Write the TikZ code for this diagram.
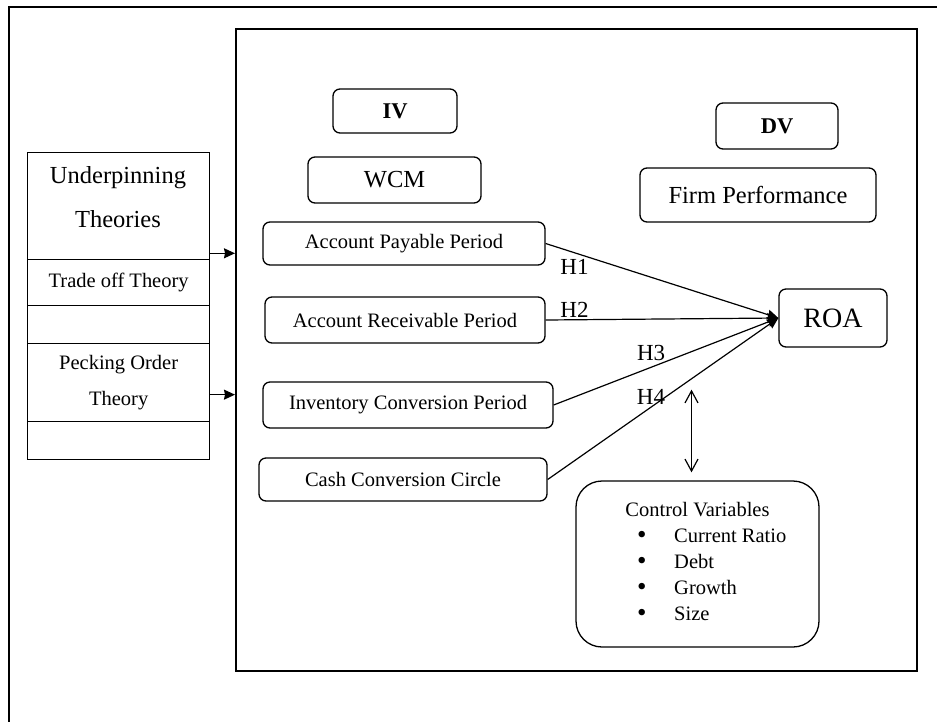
\documentclass[tikz,border=0pt]{standalone}
\usepackage{fontspec}
\setmainfont{Liberation Serif}
\usetikzlibrary{arrows.meta}

\newcommand{\fs}[2]{\fontsize{#1}{#2}\selectfont}
\newcommand{\cvbullet}{\makebox[37pt][l]{\raisebox{-1pt}{\fs{27}{26}\textbullet}}}

\begin{document}
\begin{tikzpicture}[x=1pt, y=-1pt,
  box/.style={draw, line width=1.3pt, rounded corners=7pt, font=\fs{20.5}{24}},
  cell/.style={draw, line width=1.3pt, anchor=north west, minimum width=182pt, font=\fs{20.5}{36}, align=center},
  hyp/.style={font=\fs{23}{26}, inner sep=2pt},
  arr/.style={->, >={Stealth[length=11pt, width=10pt, inset=1pt]}, line width=1.2pt},
  dbl/.style={<->, >={Straight Barb[length=12pt, width=13pt]}, line width=1.2pt}]
  \useasboundingbox (0,0) rectangle (937,721);
  \draw[line width=2.5pt] (9,7) rectangle (960,740);
  \node[draw, line width=1.5pt, anchor=north west, minimum width=681pt, minimum height=642pt] (model) at (235,28) {};

  \node[cell, minimum height=107pt] (theories) at (27,152) {};
  \node[font=\fs{24.5}{44}, align=center, anchor=base, inner sep=0pt] (theories-txt) at (118,227) {Underpinning\\Theories};
  \node[cell, minimum height=46pt] (tradeoff) at (27,259) {Trade off Theory};
  \node[cell, minimum height=38pt] (blank1) at (27,305) {};
  \node[cell, minimum height=78pt] (pecking) at (27,343) {Pecking Order\\Theory};
  \node[cell, minimum height=38pt] (blank2) at (27,421) {};

  \node[box, font=\fs{22.5}{26}\bfseries, minimum width=124pt, minimum height=44pt] (iv) at (395,111) {IV};
  \node[box, font=\fs{24.5}{28}, minimum width=173pt, minimum height=46pt] (wcm) at (394.5,180) {WCM};
  \node[box, font=\fs{22.5}{26}\bfseries, minimum width=122pt, minimum height=46pt] (dv) at (777,126) {DV};
  \node[box, font=\fs{24.5}{28}, minimum width=236pt, minimum height=54pt] (firm) at (758,195) {Firm Performance};
  \node[box, minimum width=282pt, minimum height=43pt] (app) at (404,243.5) {Account Payable Period};
  \node[box, minimum width=280pt, minimum height=46pt] (arp) at (405,320) {Account Receivable Period};
  \node[box, minimum width=290pt, minimum height=46pt] (icp) at (408,405) {Inventory Conversion Period};
  \node[box, minimum width=288pt, minimum height=43pt] (ccc) at (403,479.5) {Cash Conversion Circle};
  \node[box, font=\fs{28}{32}, minimum width=108pt, minimum height=58pt] (roa) at (833,318) {ROA};
  \node[box, rounded corners=26pt, minimum width=243pt, minimum height=166pt] (ctrl) at (697.5,564) {};
  \node[font=\fs{20.5}{26}, anchor=base, inner sep=0pt] (cv-title) at (697.5,516) {Control Variables};
  \node[font=\fs{20.5}{26}, anchor=base west, align=left, inner sep=0pt] (cv-items) at (637,620)
    {\cvbullet Current Ratio\\\cvbullet Debt\\\cvbullet Growth\\\cvbullet Size};

  \coordinate (t1) at ([yshift=7pt]theories.south east);
  \draw[arr] (t1) -- (t1 -| model.west);
  \coordinate (t2) at ([yshift=-12pt]pecking.east);
  \draw[arr] (t2) -- (t2 -| model.west);

  \draw[arr] (app.east) -- (roa.west) node[pos=0.124, below=4pt, hyp] (h1) {H1};
  \draw[arr] (arp.east) -- (roa.west) node[pos=0.124, above=0pt, hyp] (h2) {H2};
  \draw[arr] (icp.east) -- (roa.west) node[pos=0.434, above=4pt, hyp] (h3) {H3};
  \draw[arr] (ccc.east) -- (roa.west) node[pos=0.448, above=0pt, hyp] (h4) {H4};

  \coordinate (cv-top) at ([xshift=-6pt]ctrl.north);
  \draw[dbl, shorten <=8pt, shorten >=42pt] (cv-top) -- (cv-top |- roa.south);
\end{tikzpicture}
\end{document}
